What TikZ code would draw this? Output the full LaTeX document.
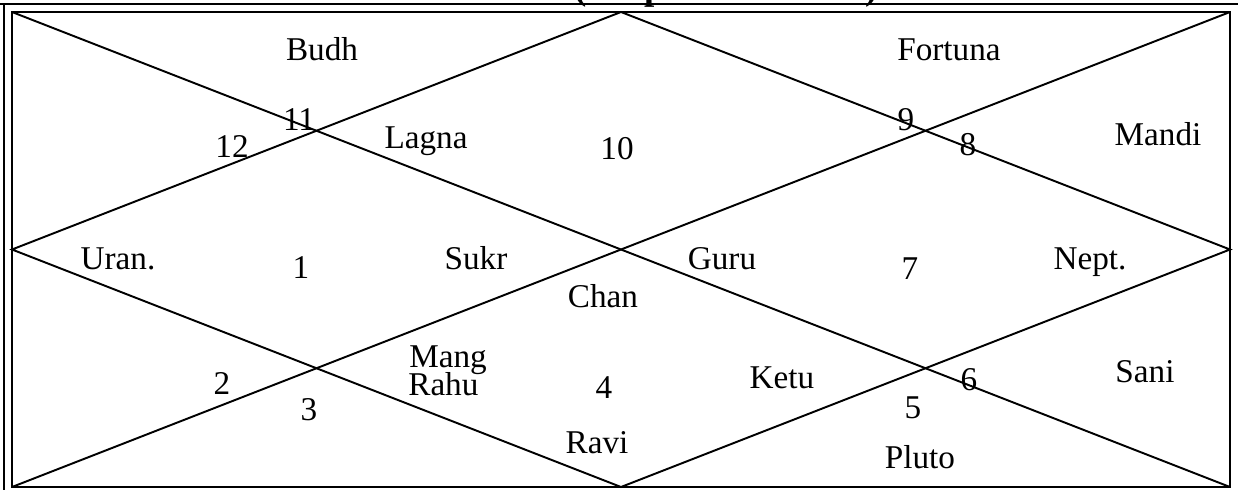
\documentclass[tikz,border=0pt]{standalone}
\usepackage{fontspec}
\setmainfont{Liberation Serif}
\usetikzlibrary{positioning}

\begin{document}
\begin{tikzpicture}[
    x=0.02cm, y=-0.02cm,
    grid/.style={line width=1.1pt, line join=miter},
    frame/.style={line width=1pt},
    graha/.style={font=\fontsize{18.9}{16}\selectfont, inner sep=0pt, anchor=base},
    bhava/.style={font=\fontsize{18.9}{16}\selectfont, inner sep=0pt, anchor=base},
    title/.style={font=\fontsize{21}{18}\selectfont\bfseries, inner sep=0pt, anchor=base west}
]
    \useasboundingbox (0,0) rectangle (1238,490);
    \clip (0,0) rectangle (1238,490);

    % Outer frame and clipped title
    \coordinate (fa) at (0,4);
    \coordinate (fb) at (1238,4);
    \coordinate (fc) at (4,4);
    \coordinate (fd) at (4,490);
    \draw[frame] (fa) -- (fb);
    \draw[frame] (fc) -- (fd);
    \node[title] (head) at (574,-1) {(Kalpa Rasi Chart)};

    % Chart corners and midpoints
    \coordinate (nw) at (12,12);
    \coordinate (ne) at (1230,12);
    \coordinate (se) at (1230,487);
    \coordinate (sw) at (12,487);
    \coordinate (n) at (621,12);
    \coordinate (e) at (1230,249.5);
    \coordinate (s) at (621,487);
    \coordinate (w) at (12,249.5);

    % Chart lines
    \draw[grid] (nw) rectangle (se);
    \draw[grid] (nw) -- (se);
    \draw[grid] (ne) -- (sw);
    \draw[grid] (n) -- (e) -- (s) -- (w) -- cycle;

    % House numbers
    \node[bhava] (h1) at (301,278) {1};
    \node[bhava] (h2) at (222,394) {2};
    \node[bhava] (h3) at (309,420) {3};
    \node[bhava] (h4) at (604,398) {4};
    \node[bhava] (h5) at (913,418) {5};
    \node[bhava] (h6) at (969,390) {6};
    \node[bhava] (h7) at (910,279) {7};
    \node[bhava] (h8) at (968,155) {8};
    \node[bhava] (h9) at (906,130) {9};
    \node[bhava] (h10) at (617,159) {10};
    \node[bhava] (h11) at (299,130) {11};
    \node[bhava] (h12) at (232,157) {12};

    % Planets
    \node[graha] (budh) at (322,60) {Budh};
    \node[graha] (fortuna) at (949,60) {Fortuna};
    \node[graha] (lagna) at (426,148) {Lagna};
    \node[graha] (mandi) at (1158,145) {Mandi};
    \node[graha] (uran) at (118,269) {Uran.};
    \node[graha] (sukr) at (476,269) {Sukr};
    \node[graha] (guru) at (722,269) {Guru};
    \node[graha] (nept) at (1090,269) {Nept.};
    \node[graha] (chan) at (603,307) {Chan};
    \node[graha, anchor=base west] (mang) at (409,367) {Mang};
    \node[graha, anchor=base west] (rahu) at (408,395) {Rahu};
    \node[graha] (ketu) at (782,388) {Ketu};
    \node[graha] (sani) at (1145,382) {Sani};
    \node[graha] (ravi) at (597,453) {Ravi};
    \node[graha] (pluto) at (920,468) {Pluto};
\end{tikzpicture}
\end{document}
